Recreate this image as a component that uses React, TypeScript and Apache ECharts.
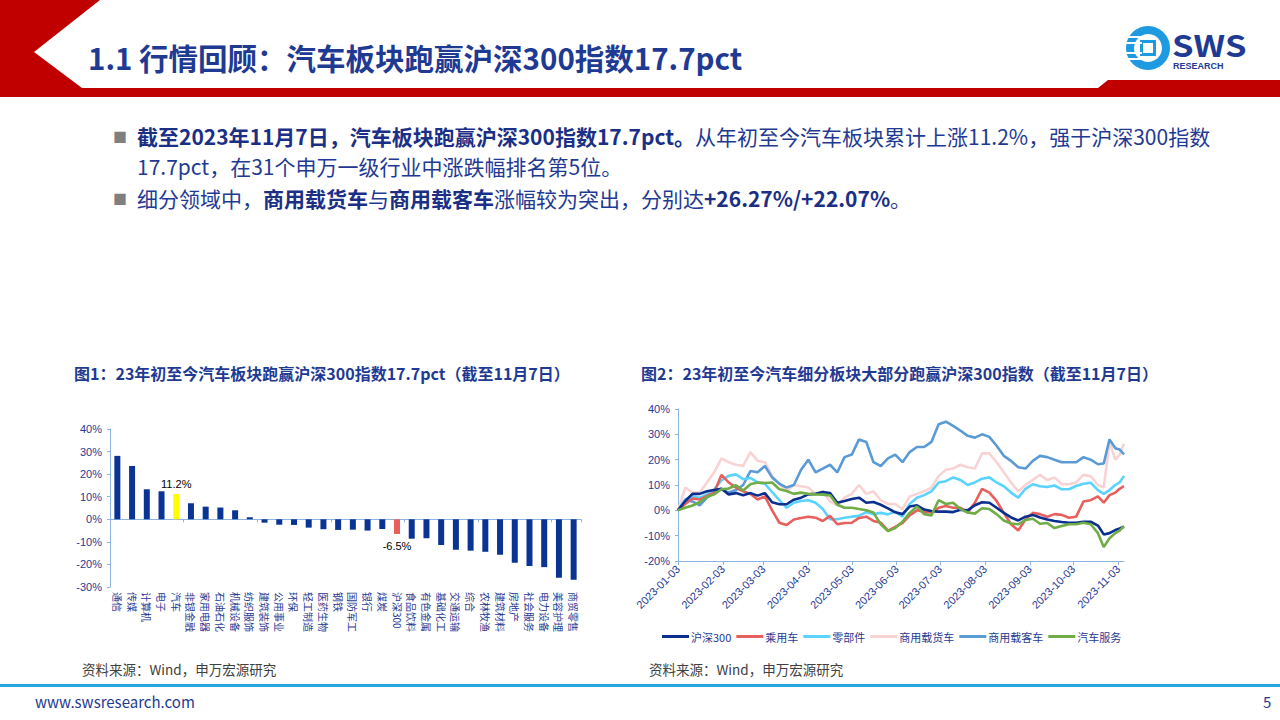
import React, { useEffect, useRef } from "react";
import * as echarts from "echarts";

// ---------- Figure 1 data ----------
const industries = ["通信","传媒","计算机","电子","汽车","非银金融","家用电器","石油石化","机械设备","纺织服饰","建筑装饰","公用事业","环保","轻工制造","医药生物","钢铁","国防军工","银行","煤炭","沪深300","食品饮料","有色金属","基础化工","交通运输","综合","农林牧渔","建筑材料","房地产","社会服务","电力设备","美容护理","商贸零售"];
const industryChange = [28.1,23.6,13.3,12.4,11.2,7.1,5.6,5.2,4.0,0.9,-1.5,-2.4,-2.5,-3.7,-4.4,-4.7,-4.6,-5.0,-4.3,-6.5,-8.6,-8.4,-11.4,-13.5,-13.9,-14.4,-15.7,-19.3,-20.7,-21.2,-25.9,-26.8];
const fig1Ticks = [-30, -20, -10, 0, 10, 20, 30, 40];

// ---------- Figure 2 data ----------
const axisStart = "2023-01-03";
const axisEnd = "2023-11-07";
const sampleDates = [
  "2023-01-03","2023-01-08","2023-01-13","2023-01-18","2023-01-23","2023-01-28",
  "2023-02-02","2023-02-07","2023-02-12","2023-02-17","2023-02-22","2023-02-27",
  "2023-03-04","2023-03-09","2023-03-14","2023-03-19","2023-03-24","2023-03-29",
  "2023-04-03","2023-04-08","2023-04-13","2023-04-18","2023-04-23","2023-04-28",
  "2023-05-03","2023-05-08","2023-05-13","2023-05-18","2023-05-23","2023-05-28",
  "2023-06-02","2023-06-07","2023-06-12","2023-06-17","2023-06-22","2023-06-27",
  "2023-07-02","2023-07-07","2023-07-12","2023-07-17","2023-07-22","2023-07-27",
  "2023-08-01","2023-08-06","2023-08-11","2023-08-16","2023-08-21","2023-08-26","2023-08-31",
  "2023-09-05","2023-09-10","2023-09-15","2023-09-20","2023-09-25","2023-09-30",
  "2023-10-05","2023-10-10","2023-10-15","2023-10-20","2023-10-24","2023-10-28",
  "2023-11-01","2023-11-04","2023-11-07"
];
const hs300 = [
  0,3.7,6.5,6.5,7.5,8,
  8.5,6.3,6.8,6,6.8,5.8,
  6.8,3.2,2.4,2.4,4.2,5,
  6.3,6.5,7.2,6.8,3,3.7,
  4.5,5,3,3.3,2.2,0.8,
  -0.8,-1.5,1.5,2,0.3,-0.3,
  -0.5,-0.5,-0.7,0.2,0,2,
  3.2,3,1,-1,-2.8,-4,-2.5,
  -1.8,-2.8,-3.6,-4.2,-4.6,-4.9,
  -4.9,-4.5,-4.5,-6,-9.5,-9,
  -7.8,-7.2,-6.5
];
const passengerCar = [
  0,2.5,4.7,4.3,5.7,7,
  14,11,9,7.5,6.5,4.3,
  5.5,0,-4.9,-5.8,-3.6,-3,
  -2.5,-2.9,-4.2,-2.2,-5.5,-5,
  -4.9,-3,-2.5,-4.2,-4.9,-8,
  -6.5,-5,-2,0,-0.5,-0.8,
  1,1.7,1,1,-0.9,3,
  8.5,7,3.7,-1,-5.5,-8,-3.5,
  -1,-1.5,-2.5,-1.5,-1.8,-2.9,
  -2.5,3.5,4,5.5,3,6,
  7,8.5,9.6
];
const autoParts = [
  0,4.3,5.5,5,6.3,8.3,
  11.8,13.6,14.2,12.3,12.8,11,
  10.5,7.2,4,1,3,3.7,
  4,3,0.5,-3.5,-3.5,-2.9,
  -2.5,-2.2,-0.7,-1.5,-1,-1.6,
  -0.5,-2.5,2.5,5,6,7.5,
  11,11.5,13,12,10,11,
  12.5,13,11,9.5,7,5,8.5,
  10.3,9.5,9.2,9.8,8.3,8.3,
  9.6,10.5,10.9,8,6.5,8,
  10,11,13.6
];
const truck = [
  0,9,7,7,11,15,
  20.5,19,18,17.5,23,19.5,
  19,13.5,10.5,7.5,10,9.5,
  9,6.5,7.5,3.5,2,5,
  6.5,10,6.5,7.5,4,2.5,
  2.5,0.5,5.5,6.5,7.5,9,
  13.5,16,16.5,18,17,16.5,
  22.5,22.5,19,15,11,7.5,10,
  12,14,12,13,10.3,10.3,
  11,14,13.5,10,9,27,
  20,22,26.3
];
const bus = [
  0,4,3.5,2,5,7.5,
  8.5,7,8,10,15.5,15,
  17.5,13,10.5,9,10,16,
  20,15,16.5,18,15,21,
  22,28,27,19,17.5,20.5,
  22,19,23,25,25,27,
  34,35,33.3,31.5,29.4,28.7,
  30,29,25.5,21.5,19.5,17,16.5,
  19.5,21.5,21,20,19,19,
  19,21,20,18.2,18.5,28,
  24.5,24,22.1
];
const autoService = [
  0,1,1.9,3.3,5.3,6.3,
  8.3,8.6,9.9,7.8,10.3,11,
  10.8,11,8.3,7.6,6.5,7,
  6.5,6.3,6.2,5.9,2.2,1,
  1,0.5,0,-0.9,-5.5,-8.2,
  -7,-4.5,-1,1.5,-1.5,-2,
  4,2.5,3,0.5,-0.8,-1.3,
  0.8,0.5,-1.5,-4,-5.2,-5.5,-3.8,
  -3.3,-5.3,-5,-7,-6.2,-5.5,
  -5.5,-4.9,-5.5,-9,-14.5,-11,
  -9,-8,-6.2
];
const seriesNames = ["沪深300","乘用车","零部件","商用载货车","商用载客车","汽车服务"];
const seriesColors = ["#0B2F8F","#E8605D","#5BD3FF","#F9D3D3","#5B9BD5","#70AD47"];
const seriesValues = [hs300, passengerCar, autoParts, truck, bus, autoService];
const drawOrder = [3, 4, 2, 1, 0, 5];

const NAVY = "#1F3A93";
const AXIS = "#8EB4E3";
const CJK = "'Noto Sans CJK SC', 'Microsoft YaHei', sans-serif";
const NARROW = "'Liberation Sans Narrow', 'Noto Sans CJK SC', sans-serif";
const SANS = "'Liberation Sans', Arial, sans-serif";

function buildDays(start: string, end: string): string[] {
  const out: string[] = [];
  const d = new Date(start + "T00:00:00Z");
  const e = new Date(end + "T00:00:00Z");
  while (d.getTime() <= e.getTime()) {
    out.push(d.toISOString().slice(0, 10));
    d.setUTCDate(d.getUTCDate() + 1);
  }
  return out;
}

export default function App() {
  const ref = useRef<HTMLDivElement>(null);
  useEffect(() => {
    document.body.style.margin = "0";
    const chart = echarts.init(ref.current!, undefined, { renderer: "svg" });
    const days = buildDays(axisStart, axisEnd);
    const isTickDay = (_i: number, v: string) => v.slice(8) === "03";

    const barData = industryChange.map((v, i) => {
      const name = industries[i];
      if (name === "汽车") {
        return { value: v, itemStyle: { color: "#FFFF00" }, label: { show: true, position: "top", distance: 5, formatter: v.toFixed(1) + "%" } };
      }
      if (name === "沪深300") {
        return { value: v, itemStyle: { color: "#E8605D" }, label: { show: true, position: "outside", distance: 7, formatter: v.toFixed(1) + "%" } };
      }
      return { value: v };
    });

    const lineSeries = drawOrder.map((k) => ({
      name: seriesNames[k],
      type: "line",
      xAxisIndex: 2,
      yAxisIndex: 1,
      symbol: "none",
      showSymbol: false,
      lineStyle: { width: 2.6, color: seriesColors[k] },
      itemStyle: { color: seriesColors[k] },
      data: sampleDates.map((d, i) => [d, seriesValues[k][i]]),
    }));

    const bulletRich = {
      b: { fontFamily: CJK, fontSize: 21, fontWeight: "bold", fill: "#1A2F85" },
      n: { fontFamily: CJK, fontSize: 21, fontWeight: "normal", fill: NAVY },
    };

    chart.setOption({
      animation: false,
      backgroundColor: "#ffffff",
      textStyle: { fontFamily: CJK },
      grid: [
        { left: 110, right: 699, top: 429, bottom: 133, containLabel: false },
        { left: 678, right: 156, top: 409, bottom: 159, containLabel: false },
      ],
      xAxis: [
        {
          type: "category", gridIndex: 0, data: industries,
          axisLine: { show: false, onZero: false },
          axisTick: { show: false },
          axisLabel: { rotate: -90, interval: 0, fontSize: 10, color: NAVY, margin: 5, fontFamily: CJK },
        },
        {
          type: "category", gridIndex: 0, data: industries, position: "bottom",
          axisLine: { show: true, onZero: true, lineStyle: { color: AXIS, width: 1 } },
          axisTick: { show: true, length: 3, lineStyle: { color: AXIS } },
          axisLabel: { show: false },
        },
        {
          type: "category", gridIndex: 1, data: days, boundaryGap: false,
          axisLine: { show: true, onZero: false, lineStyle: { color: AXIS, width: 1 } },
          axisTick: { show: true, interval: isTickDay, length: 4, lineStyle: { color: AXIS } },
          axisLabel: { interval: isTickDay, rotate: 45, fontSize: 11, color: NAVY, margin: 6, fontFamily: SANS },
        },
      ],
      yAxis: [
        {
          type: "value", gridIndex: 0, min: fig1Ticks[0], max: fig1Ticks[fig1Ticks.length - 1], interval: 10,
          axisLine: { show: true, lineStyle: { color: AXIS } },
          axisTick: { show: true, length: 3, lineStyle: { color: AXIS } },
          splitLine: { show: false },
          axisLabel: { formatter: "{value}%", fontSize: 11, color: NAVY, margin: 8, fontFamily: SANS },
        },
        {
          type: "value", gridIndex: 1, min: -20, max: 40, interval: 10,
          axisLine: { show: true, lineStyle: { color: AXIS } },
          axisTick: { show: true, length: 3, lineStyle: { color: AXIS } },
          splitLine: { show: false },
          axisLabel: { formatter: "{value}%", fontSize: 11, color: NAVY, margin: 8, fontFamily: SANS },
        },
      ],
      legend: {
        data: seriesNames,
        left: 657, top: 626,
        icon: "rect",
        itemWidth: 27, itemHeight: 3, itemGap: 5,
        textStyle: { fontSize: 11, color: NAVY, fontFamily: CJK, padding: [0, 0, 0, -3] },
      },
      series: [
        {
          type: "bar", xAxisIndex: 0, yAxisIndex: 0, data: barData,
          barWidth: 6,
          itemStyle: { color: "#0A3494" },
          label: { show: false, fontSize: 11, color: "#000", fontFamily: SANS },
        },
        ...lineSeries,
      ],
      graphic: [
        // header decoration
        { type: "polygon", shape: { points: [[0, 0], [100, 0], [34, 52], [82, 88], [1098, 88], [1108, 80], [1280, 80], [1280, 97], [0, 97]] }, style: { fill: "#C00000" }, silent: true },
        { type: "text", x: 88, y: 57, style: { text: "1.1 行情回顾：汽车板块跑赢沪深300指数17.7pct", fontFamily: CJK, fontSize: 29.5, fontWeight: "bold", fill: "#1F3A93", verticalAlign: "middle" } },
        // logo
        { type: "circle", shape: { cx: 1148, cy: 48, r: 22 }, style: { fill: "#1E9BE0" } },
        { type: "circle", shape: { cx: 1148, cy: 48, r: 14 }, style: { fill: "#ffffff" } },
        { type: "rect", shape: { x: 1140, y: 40, width: 16, height: 16 }, style: { fill: "#1E9BE0" } },
        { type: "rect", shape: { x: 1143, y: 43, width: 10, height: 10 }, style: { fill: "#ffffff" } },
        { type: "rect", shape: { x: 1126, y: 36, width: 16, height: 2 }, style: { fill: "#ffffff" } },
        { type: "rect", shape: { x: 1126, y: 42, width: 16, height: 2 }, style: { fill: "#ffffff" } },
        { type: "rect", shape: { x: 1126, y: 52, width: 16, height: 2 }, style: { fill: "#ffffff" } },
        { type: "rect", shape: { x: 1126, y: 58, width: 16, height: 2 }, style: { fill: "#ffffff" } },
        { type: "text", x: 1172, y: 44, scaleX: 1.15, style: { text: "SWS", fontFamily: NARROW, fontSize: 30, fontWeight: "bold", fill: "#1F3A93", verticalAlign: "middle" } },
        { type: "text", x: 1173, y: 66, style: { text: "RESEARCH", fontFamily: SANS, fontSize: 9, fontWeight: "bold", fill: "#1F3A93", verticalAlign: "middle" } },
        // bullets
        { type: "text", x: 113, y: 136, style: { text: "■", fontSize: 14, fill: "#7F7F7F", verticalAlign: "middle", fontFamily: CJK } },
        { type: "text", x: 137, y: 136, style: { text: "{b|截至2023年11月7日，汽车板块跑赢沪深300指数17.7pct。}{n|从年初至今汽车板块累计上涨11.2%，强于沪深300指数}", rich: bulletRich, verticalAlign: "middle" } },
        { type: "text", x: 137, y: 166, style: { text: "{n|17.7pct，在31个申万一级行业中涨跌幅排名第5位。}", rich: bulletRich, verticalAlign: "middle" } },
        { type: "text", x: 113, y: 198, style: { text: "■", fontSize: 14, fill: "#7F7F7F", verticalAlign: "middle", fontFamily: CJK } },
        { type: "text", x: 137, y: 198, style: { text: "{n|细分领域中，}{b|商用载货车}{n|与}{b|商用载客车}{n|涨幅较为突出，分别达}{b|+26.27%/+22.07%}{n|。}", rich: bulletRich, verticalAlign: "middle" } },
        // figure titles
        { type: "text", x: 74, y: 373, style: { text: "图1：23年初至今汽车板块跑赢沪深300指数17.7pct（截至11月7日）", fontFamily: CJK, fontSize: 16, fontWeight: "bold", fill: NAVY, verticalAlign: "middle" } },
        { type: "text", x: 641, y: 373, style: { text: "图2：23年初至今汽车细分板块大部分跑赢沪深300指数（截至11月7日）", fontFamily: CJK, fontSize: 16, fontWeight: "bold", fill: NAVY, verticalAlign: "middle" } },
        // sources
        { type: "text", x: 82, y: 669, style: { text: "资料来源：Wind，申万宏源研究", fontFamily: CJK, fontSize: 13.5, fill: "#404040", verticalAlign: "middle" } },
        { type: "text", x: 649, y: 669, style: { text: "资料来源：Wind，申万宏源研究", fontFamily: CJK, fontSize: 13.5, fill: "#404040", verticalAlign: "middle" } },
        // footer
        { type: "rect", shape: { x: 0, y: 684, width: 1280, height: 3 }, style: { fill: "#29A8E0" } },
        { type: "text", x: 35, y: 701, style: { text: "www.swsresearch.com", fontFamily: NARROW, fontSize: 15, fill: "#1F3A93", verticalAlign: "middle" } },
        { type: "text", x: 1263, y: 701, style: { text: "5", fontFamily: NARROW, fontSize: 15, fill: "#1F3A93", verticalAlign: "middle" } },
      ],
    });
    return () => chart.dispose();
  }, []);
  return <div ref={ref} style={{ position: "fixed", left: 0, top: 0, width: 1280, height: 720 }} />;
}
